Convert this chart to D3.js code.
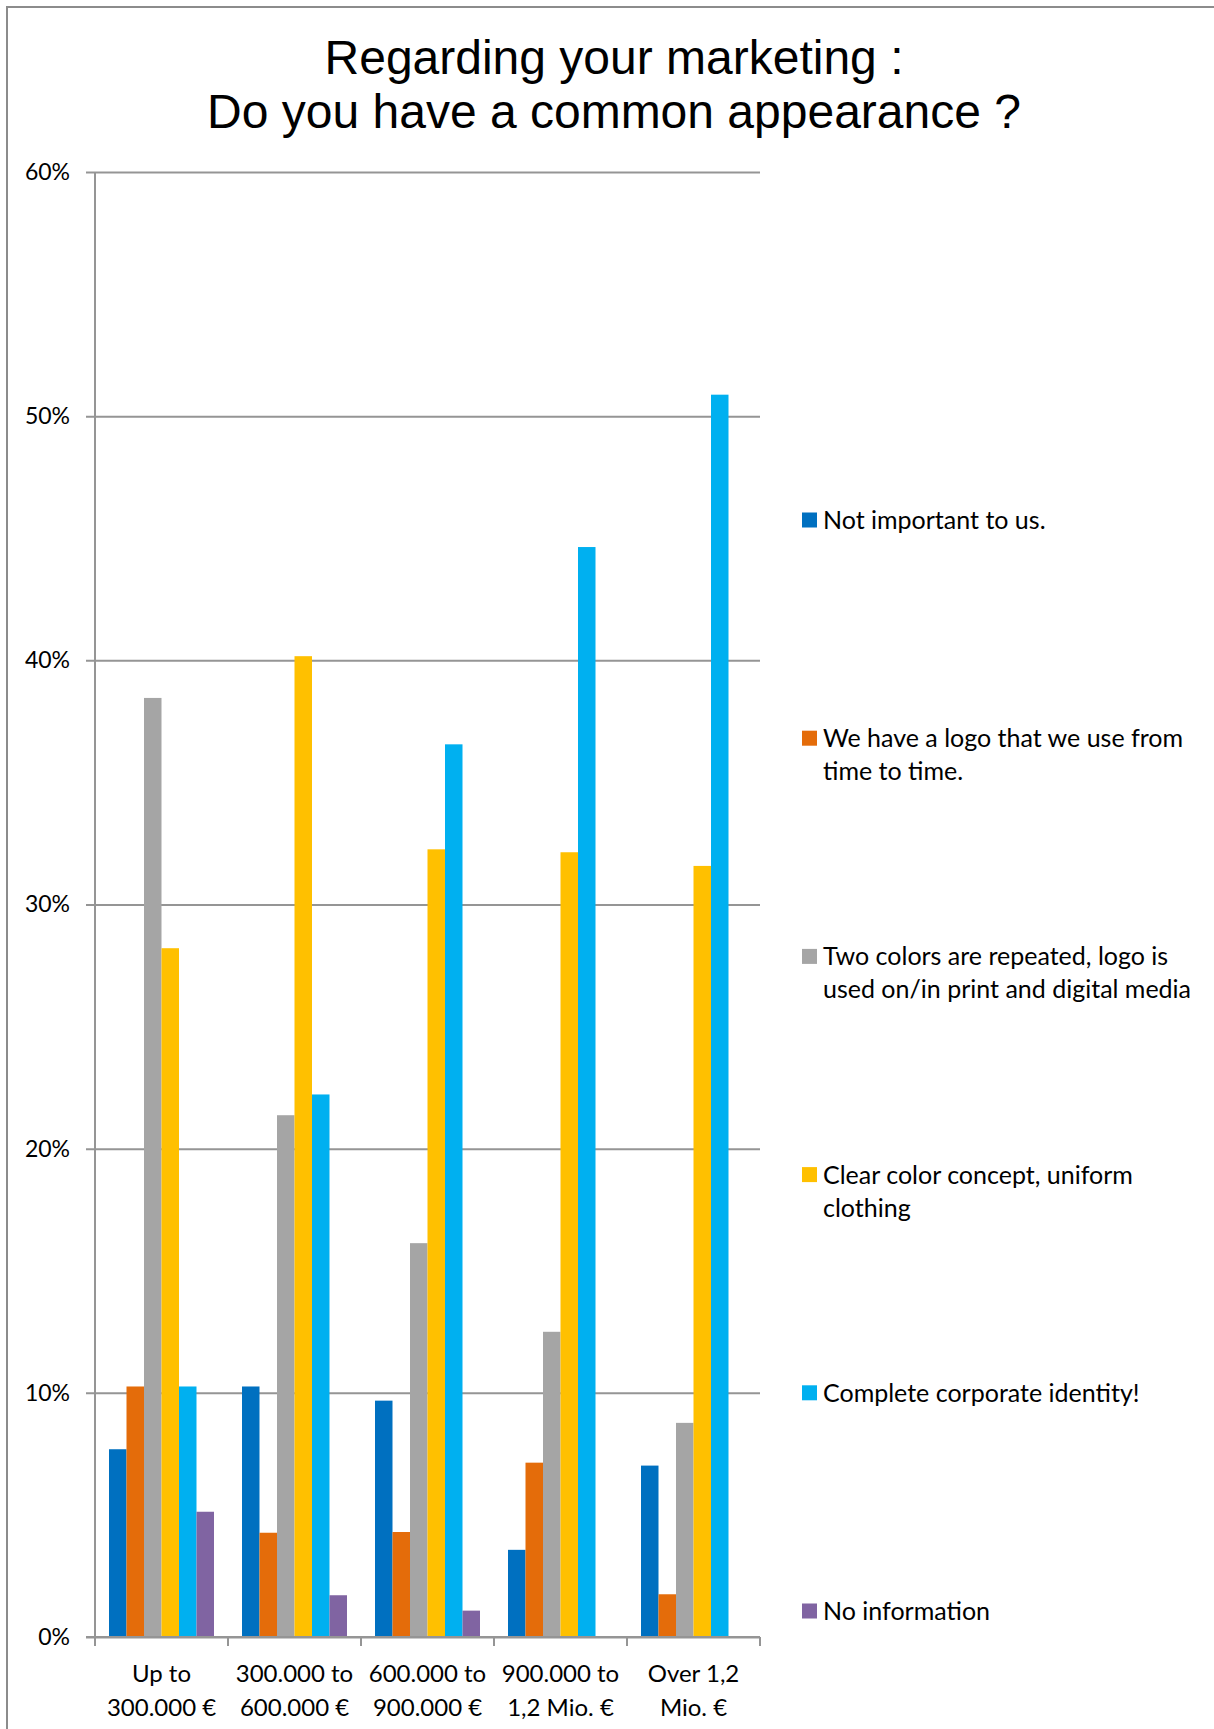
<!DOCTYPE html>
<html>
<head>
<meta charset="utf-8">
<script src="https://cdn.jsdelivr.net/npm/d3@7"></script>
<style>
  html, body { margin: 0; padding: 0; background: #fff; }
  svg { display: block; }
</style>
</head>
<body>
<svg id="chart" width="1214" height="1729"></svg>
<script>
// Revenue classes (x axis), each label split over two lines
const categories = ["Up to 300.000 €", "300.000 to 600.000 €", "600.000 to 900.000 €", "900.000 to 1,2 Mio. €", "Over 1,2 Mio. €"];
const categoryLines = [
  ["Up to", "300.000 €"],
  ["300.000 to", "600.000 €"],
  ["600.000 to", "900.000 €"],
  ["900.000 to", "1,2 Mio. €"],
  ["Over 1,2", "Mio. €"]
];

// Answer options (series)
const seriesNames = [
  "Not important to us.",
  "We have a logo that we use from time to time.",
  "Two colors are repeated, logo is used on/in print and digital media",
  "Clear color concept, uniform clothing",
  "Complete corporate identity!",
  "No information"
];
const legendLines = [
  ["Not important to us."],
  ["We have a logo that we use from", "time to time."],
  ["Two colors are repeated, logo is", "used on/in print and digital media"],
  ["Clear color concept, uniform", "clothing"],
  ["Complete corporate identity!"],
  ["No information"]
];
const seriesColors = ["#0070C0", "#E46C0A", "#A5A5A5", "#FFC000", "#00B0F0", "#8064A2"];

// Share of answers per series, one value per revenue class (in %)
const notImportant   = [7.69, 10.26, 9.68, 3.57, 7.02];
const logoSometimes  = [10.26, 4.27, 4.30, 7.14, 1.75];
const twoColors      = [38.46, 21.37, 16.13, 12.50, 8.77];
const colorConcept   = [28.21, 40.17, 32.26, 32.14, 31.58];
const corporateId    = [10.26, 22.22, 36.56, 44.64, 50.88];
const noInformation  = [5.13, 1.71, 1.08, 0, 0];
const seriesValues = [notImportant, logoSometimes, twoColors, colorConcept, corporateId, noInformation];

const yTicks = [0, 10, 20, 30, 40, 50, 60];
const titleLines = ["Regarding your marketing :", "Do you have a common appearance ?"];

const svg = d3.select("#chart");
const W = 1214, H = 1729;
const plot = { left: 95, right: 760, top: 172, bottom: 1637 };
const gridColor = "#959595";
const labelFont = "Lato, 'Open Sans', sans-serif";

// frame
svg.append("path")
  .attr("d", `M7,${H} V7 H${W}`)
  .attr("fill", "none")
  .attr("stroke", "#8c8c8c")
  .attr("stroke-width", 2);

// title
svg.append("g").selectAll("text")
  .data(titleLines)
  .join("text")
  .attr("x", 614)
  .attr("y", (d, i) => 74 + i * 54)
  .attr("text-anchor", "middle")
  .attr("font-family", "'Liberation Sans', Arial, sans-serif")
  .attr("font-size", 48)
  .attr("fill", "#000")
  .text(d => d);

// scales
const y = d3.scaleLinear().domain([0, 60]).range([plot.bottom, plot.top]);
const x = d3.scaleBand().domain(categories).range([plot.left, plot.right]).paddingInner(0).paddingOuter(0);
const groupPad = 14;
const x1 = d3.scaleBand().domain(d3.range(seriesNames.length))
  .range([groupPad, x.bandwidth() - groupPad]).paddingInner(0);

// horizontal gridlines + y labels
const yAxis = d3.axisLeft(y)
  .tickValues(yTicks)
  .tickSize(-(plot.right - 86))
  .tickPadding(16)
  .tickFormat(d => d + "%");
const gy = svg.append("g")
  .attr("transform", "translate(86,0)")
  .call(yAxis);
gy.select(".domain").remove();
gy.selectAll(".tick line").attr("stroke", gridColor).attr("stroke-width", 2);
gy.selectAll(".tick text")
  .attr("font-family", labelFont)
  .attr("font-size", 23)
  .attr("fill", "#000");

// vertical axis line
svg.append("line")
  .attr("x1", plot.left).attr("x2", plot.left)
  .attr("y1", y(60)).attr("y2", y(0))
  .attr("stroke", gridColor).attr("stroke-width", 2);

// bars
const groups = svg.append("g").selectAll("g")
  .data(categories)
  .join("g")
  .attr("transform", d => `translate(${x(d)},0)`);
groups.selectAll("rect")
  .data((c, ci) => seriesValues.map((vals, si) => ({ si, v: vals[ci] })))
  .join("rect")
  .attr("x", d => x1(d.si))
  .attr("width", x1.bandwidth())
  .attr("y", d => y(d.v))
  .attr("height", d => y(0) - y(d.v))
  .attr("fill", d => seriesColors[d.si]);

// category axis: line at 0 and boundary ticks
svg.append("line")
  .attr("x1", 86).attr("x2", plot.right)
  .attr("y1", y(0)).attr("y2", y(0))
  .attr("stroke", gridColor).attr("stroke-width", 2);
const boundaries = categories.map(c => x(c)).concat([x.range()[1]]);
svg.append("g").selectAll("line")
  .data(boundaries)
  .join("line")
  .attr("x1", d => d).attr("x2", d => d)
  .attr("y1", y(0)).attr("y2", y(0) + 9)
  .attr("stroke", gridColor).attr("stroke-width", 2);

// category labels
const xl = svg.append("g").selectAll("text")
  .data(categories)
  .join("text")
  .attr("text-anchor", "middle")
  .attr("font-family", labelFont)
  .attr("font-size", 24)
  .attr("fill", "#000");
xl.each(function (c, i) {
  d3.select(this).selectAll("tspan")
    .data(categoryLines[i])
    .join("tspan")
    .attr("x", x(c) + x.bandwidth() / 2)
    .attr("y", (d, j) => 1682 + j * 34)
    .text(d => d);
});

// legend
const legendTop = 520, legendStep = 218.2;
const lg = svg.append("g").selectAll("g")
  .data(seriesNames)
  .join("g")
  .attr("transform", (d, i) => `translate(802,${legendTop + i * legendStep})`);
lg.append("rect")
  .attr("x", 0).attr("y", -7.5)
  .attr("width", 15).attr("height", 15)
  .attr("fill", (d, i) => seriesColors[i]);
lg.append("text")
  .attr("font-family", labelFont)
  .attr("font-size", 25)
  .attr("fill", "#000")
  .each(function (d, i) {
    d3.select(this).selectAll("tspan")
      .data(legendLines[i])
      .join("tspan")
      .attr("x", 21)
      .attr("y", (t, j) => 9 + j * 33)
      .text(t => t);
  });
</script>
</body>
</html>
